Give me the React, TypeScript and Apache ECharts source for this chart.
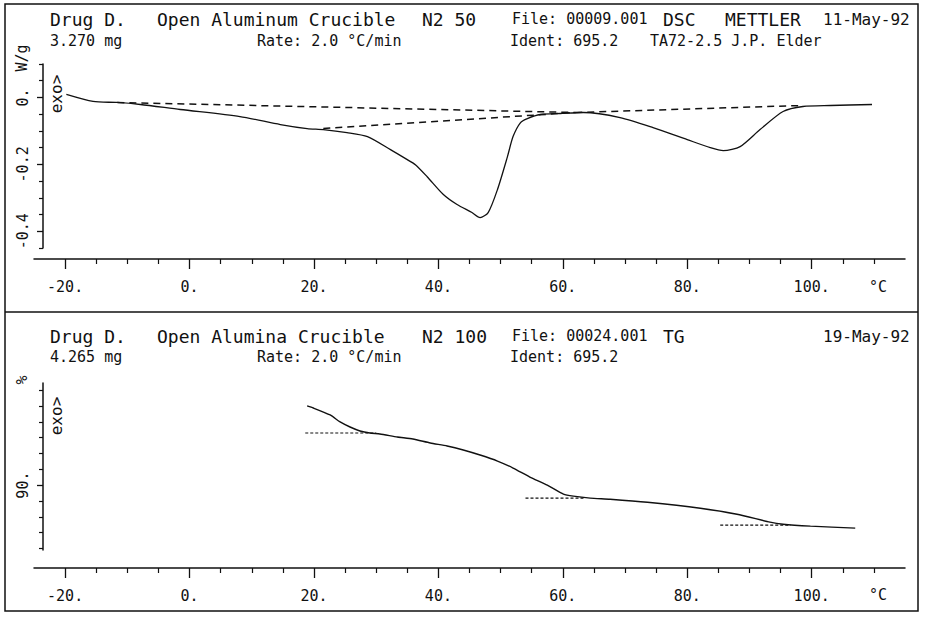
import { useEffect, useRef } from "react";
import * as echarts from "echarts";

// ---- Axis ticks / labels ----
const tempMajorTicks = [-20, 0, 20, 40, 60, 80, 100];
const tempMinorTicks = [-15, -10, -5, 5, 10, 15, 25, 30, 35, 45, 50, 55, 65, 70, 75, 85, 90, 95, 105, 110];
const dscMajorTicks = [0, -0.2, -0.4];
const dscMinorTicks = [0.1, 0.05, -0.05, -0.1, -0.15, -0.25, -0.3, -0.35, -0.45];
const tgMajorTicks = [90];
const tgMinorTicks = [86, 87, 88, 89, 91, 92, 93, 94, 95, 96];

// ---- DSC curve (°C, W/g) ----
const dscTemp = [-19.8, -15.5, -11.6, -7.9, -1.5, 8.1, 14.6, 18.9, 21.5, 25.3, 28.6, 32.3, 35.0, 36.3, 38.2, 40.8, 43.0, 45.4, 46.7, 48.0, 49.5, 51.1, 52.0, 53.2, 54.3, 56.4, 59.6, 63.3, 69.2, 74.5, 80.0, 83.7, 85.8, 88.5, 91.7, 95.4, 98.6, 103.0, 109.7];
const dscFlow = [0.009, -0.012, -0.015, -0.021, -0.036, -0.057, -0.081, -0.093, -0.096, -0.105, -0.117, -0.156, -0.186, -0.201, -0.237, -0.29, -0.32, -0.344, -0.359, -0.344, -0.275, -0.177, -0.117, -0.075, -0.063, -0.051, -0.048, -0.045, -0.06, -0.09, -0.126, -0.15, -0.159, -0.147, -0.096, -0.042, -0.027, -0.024, -0.021];

// DSC baselines (dashed)
const dscBaseA_T = [-11.6, 62.0];
const dscBaseA_V = [-0.015, -0.045];
const dscBaseB_T = [21.5, 62.0];
const dscBaseB_V = [-0.093, -0.045];
const dscBaseC_T = [62.0, 98.6];
const dscBaseC_V = [-0.045, -0.024];

// ---- TG curve (°C, %) ----
const tgTemp = [18.9, 19.9, 22.6, 24.2, 25.8, 27.4, 29.0, 30.6, 33.4, 35.9, 38.7, 41.4, 44.0, 46.7, 49.5, 52.0, 54.7, 57.5, 60.1, 61.7, 64.4, 67.6, 73.6, 82.1, 88.0, 93.3, 95.4, 99.8, 107.0];
const tgMass = [95.0, 94.87, 94.43, 93.99, 93.67, 93.42, 93.29, 93.23, 93.04, 92.91, 92.66, 92.47, 92.22, 91.9, 91.52, 91.08, 90.51, 90.0, 89.43, 89.3, 89.18, 89.11, 88.92, 88.54, 88.16, 87.66, 87.53, 87.41, 87.28];

// TG step levels (dotted)
const tgStep1_T = [18.6, 30.0];
const tgStep1_V = [93.29, 93.29];
const tgStep2_T = [54.0, 63.6];
const tgStep2_V = [89.18, 89.18];
const tgStep3_T = [85.3, 96.6];
const tgStep3_V = [87.47, 87.47];

const FONT = "'DejaVu Sans Mono', 'Liberation Mono', monospace";
const INK = "#111";

const zip = (xs: number[], ys: number[]) => xs.map((x, i) => [x, ys[i]]);

function App() {
  const ref = useRef<HTMLDivElement>(null);

  useEffect(() => {
    if (!ref.current) return;
    const chart = echarts.init(ref.current, undefined, { renderer: "svg" });

    const xMajor = (gridIndex: number, offset: number) => ({
      type: "value",
      gridIndex,
      position: "bottom",
      offset,
      min: -25,
      max: 115,
      axisLine: { show: true, onZero: false, lineStyle: { color: INK, width: 1.5 } },
      axisTick: { show: true, length: 10, customValues: tempMajorTicks, lineStyle: { color: INK, width: 1.3 } },
      axisLabel: {
        show: true,
        customValues: tempMajorTicks,
        formatter: (v: number) => `${v}.`,
        color: INK,
        fontFamily: FONT,
        fontSize: 15,
        margin: 20,
      },
      splitLine: { show: false },
    });
    const xMinor = (gridIndex: number, offset: number) => ({
      type: "value",
      gridIndex,
      position: "bottom",
      offset,
      min: -25,
      max: 115,
      axisLine: { show: false, onZero: false },
      axisTick: { show: true, length: 5, customValues: tempMinorTicks, lineStyle: { color: INK, width: 1.2 } },
      axisLabel: { show: false },
      splitLine: { show: false },
    });
    const yMajor = (gridIndex: number, min: number, max: number, ticks: number[], fmt: (v: number) => string) => ({
      type: "value",
      gridIndex,
      position: "left",
      offset: -9,
      min,
      max,
      axisLine: { show: true, onZero: false, lineStyle: { color: INK, width: 1.5 } },
      axisTick: { show: true, length: 6, customValues: ticks, lineStyle: { color: INK, width: 1.3 } },
      axisLabel: {
        show: true,
        customValues: ticks,
        formatter: fmt,
        rotate: 90,
        color: INK,
        fontFamily: FONT,
        fontSize: 15,
        margin: 13,
      },
      splitLine: { show: false },
    });
    const yMinor = (gridIndex: number, min: number, max: number, ticks: number[]) => ({
      type: "value",
      gridIndex,
      position: "left",
      offset: -9,
      min,
      max,
      axisLine: { show: false, onZero: false },
      axisTick: { show: true, length: 4, customValues: ticks, lineStyle: { color: INK, width: 1.2 } },
      axisLabel: { show: false },
      splitLine: { show: false },
    });

    const txt = (text: string, x: number, y: number, size: number, rot = 0, align = "left") => ({
      type: "text",
      x,
      y,
      rotation: rot,
      silent: true,
      style: {
        text,
        fill: INK,
        font: `${size}px ${FONT}`,
        align,
        verticalAlign: "middle",
      },
    });

    const line = (name: string, data: number[][], xi: number, yi: number, width: number, type: any, smooth = 0) => ({
      name,
      type: "line",
      xAxisIndex: xi,
      yAxisIndex: yi,
      data,
      symbol: "none",
      showSymbol: false,
      silent: true,
      smooth,
      lineStyle: { color: INK, width, type },
    });

    const L1 = 19;
    const L2 = 41;
    const B1 = 336;
    const B2 = 357;

    chart.setOption({
      animation: false,
      backgroundColor: "#ffffff",
      grid: [
        { left: 34, right: 20, top: 64, height: 184 },
        { left: 34, right: 20, top: 383, height: 167 },
      ],
      xAxis: [xMajor(0, 11), xMinor(0, 11), xMajor(1, 18), xMinor(1, 18)],
      yAxis: [
        yMajor(0, -0.45, 0.1, dscMajorTicks, (v: number) => (v === 0 ? "0." : v.toFixed(1))),
        yMinor(0, -0.45, 0.1, dscMinorTicks),
        yMajor(1, 85.9, 96.45, tgMajorTicks, (v: number) => `${v}.`),
        yMinor(1, 85.9, 96.45, tgMinorTicks),
      ],
      series: [
        line("DSC", zip(dscTemp, dscFlow), 0, 0, 1.3, "solid", 0.25),
        line("DSC baseline A", zip(dscBaseA_T, dscBaseA_V), 0, 0, 1.5, [7, 5]),
        line("DSC baseline B", zip(dscBaseB_T, dscBaseB_V), 0, 0, 1.5, [7, 5]),
        line("DSC baseline C", zip(dscBaseC_T, dscBaseC_V), 0, 0, 1.5, [7, 5]),
        line("TG", zip(tgTemp, tgMass), 2, 2, 1.4, "solid", 0.2),
        line("TG step 1", zip(tgStep1_T, tgStep1_V), 2, 2, 1.2, [3, 2]),
        line("TG step 2", zip(tgStep2_T, tgStep2_V), 2, 2, 1.2, [3, 2]),
        line("TG step 3", zip(tgStep3_T, tgStep3_V), 2, 2, 1.2, [3, 2]),
      ],
      graphic: [
        {
          type: "rect",
          silent: true,
          shape: { x: 5, y: 4, width: 913, height: 607 },
          style: { fill: "none", stroke: INK, lineWidth: 1.5 },
        },
        {
          type: "line",
          silent: true,
          shape: { x1: 5, y1: 312, x2: 918, y2: 312 },
          style: { stroke: INK, lineWidth: 1.5 },
        },
        // top panel header
        txt("Drug D.", 50, L1, 18),
        txt("Open Aluminum Crucible", 157, L1, 18),
        txt("N2 50", 422, L1, 18),
        txt("File: 00009.001", 512, L1, 15),
        txt("DSC", 663, L1, 18),
        txt("METTLER", 725, L1, 18),
        txt("11-May-92", 823, L1, 16),
        txt("3.270 mg", 50, L2, 15),
        txt("Rate: 2.0 °C/min", 257, L2, 15),
        txt("Ident: 695.2", 510, L2, 15),
        txt("TA72-2.5 J.P. Elder", 650, L2, 15),
        txt("W/g", 22, 58, 15, Math.PI / 2, "center"),
        txt("exo>", 56, 94, 16, Math.PI / 2, "center"),
        txt("°C", 878, 287, 15, 0, "center"),
        // bottom panel header
        txt("Drug D.", 50, B1, 18),
        txt("Open Alumina Crucible", 157, B1, 18),
        txt("N2 100", 422, B1, 18),
        txt("File: 00024.001", 512, B1, 15),
        txt("TG", 663, B1, 18),
        txt("19-May-92", 823, B1, 16),
        txt("4.265 mg", 50, B2, 15),
        txt("Rate: 2.0 °C/min", 257, B2, 15),
        txt("Ident: 695.2", 510, B2, 15),
        txt("%", 22, 380, 15, Math.PI / 2, "center"),
        txt("exo>", 56, 416, 16, Math.PI / 2, "center"),
        txt("°C", 878, 595, 15, 0, "center"),
      ],
    });

    return () => chart.dispose();
  }, []);

  return (
    <div
      ref={ref}
      style={{ position: "fixed", left: 0, top: 0, width: 925, height: 619, background: "#fff" }}
    />
  );
}

export default App;
